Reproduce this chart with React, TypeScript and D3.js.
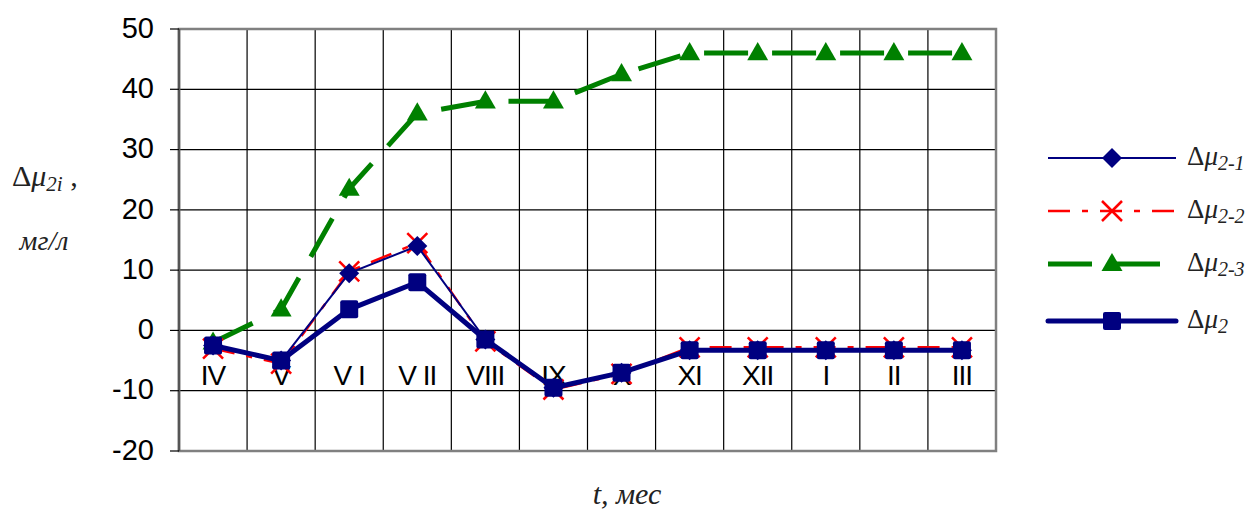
import React, { useEffect, useRef } from "react";
import * as d3 from "d3";

// months along the category axis
const months = ["IV", "V", "VI", "VII", "VIII", "IX", "X", "XI", "XII", "I", "II", "III"];
const monthLabels = ["IV", "V", "V I", "V II", "VIII", "IX", "X", "XI", "XII", "I", "II", "III"];
const yTicks = [-20, -10, 0, 10, 20, 30, 40, 50];

// series values, mg/l
const mu21 = [-2.5, -5, 9.5, 14, -1.5, -9.5, -7, -3.3, -3.3, -3.3, -3.3, -3.3];
const mu22 = [-3, -5.5, 9.8, 14.5, -1.8, -9.8, -7.2, -2.8, -2.8, -2.8, -2.8, -2.8];
const mu23 = [-2, 3.5, 23.5, 36, 38, 38, 42.5, 46, 46, 46, 46, 46];
const mu2 = [-2.5, -5, 3.5, 8, -1.5, -9.5, -7, -3.3, -3.3, -3.3, -3.3, -3.3];

const seriesNames = ["2-1", "2-2", "2-3", "2"];

const W = 1254;
const H = 509;
const plot = { left: 179, right: 996, top: 29, bottom: 451 };
const sans = "Liberation Sans, Arial, sans-serif";
const serif = "Liberation Serif, Times New Roman, serif";

function App() {
  const svgRef = useRef<SVGSVGElement>(null);

  useEffect(() => {
    const svg = d3.select(svgRef.current);
    svg.selectAll("*").remove();

    const x = d3.scaleBand().domain(months).range([plot.left, plot.right]).padding(0);
    const y = d3.scaleLinear().domain([-20, 50]).range([plot.bottom, plot.top]);
    const cx = (m: string) => (x(m) as number) + x.bandwidth() / 2;

    // grid
    const grid = svg.append("g");
    grid
      .selectAll("line.h")
      .data(yTicks)
      .join("line")
      .attr("x1", plot.left)
      .attr("x2", plot.right)
      .attr("y1", d => y(d))
      .attr("y2", d => y(d))
      .attr("stroke", "#000")
      .attr("stroke-width", 1.2);
    grid
      .selectAll("line.v")
      .data(months.slice(1))
      .join("line")
      .attr("x1", d => x(d) as number)
      .attr("x2", d => x(d) as number)
      .attr("y1", plot.top)
      .attr("y2", plot.bottom)
      .attr("stroke", "#000")
      .attr("stroke-width", 1.2);

    // frame
    svg
      .append("rect")
      .attr("x", plot.left)
      .attr("y", plot.top)
      .attr("width", plot.right - plot.left)
      .attr("height", plot.bottom - plot.top)
      .attr("fill", "none")
      .attr("stroke", "#808080")
      .attr("stroke-width", 2.5);
    svg
      .append("line")
      .attr("x1", plot.left)
      .attr("x2", plot.left)
      .attr("y1", plot.top)
      .attr("y2", plot.bottom)
      .attr("stroke", "#555")
      .attr("stroke-width", 2.5);

    // y axis ticks and labels
    const yAxis = svg.append("g");
    yAxis
      .selectAll("line")
      .data(yTicks)
      .join("line")
      .attr("x1", plot.left - 9)
      .attr("x2", plot.left)
      .attr("y1", d => y(d))
      .attr("y2", d => y(d))
      .attr("stroke", "#000")
      .attr("stroke-width", 1.2);
    yAxis
      .selectAll("text")
      .data(yTicks)
      .join("text")
      .attr("x", 154)
      .attr("y", d => y(d))
      .attr("dy", "0.3em")
      .attr("text-anchor", "end")
      .attr("font-family", sans)
      .attr("font-size", 29)
      .text(d => d);

    // category labels just below the zero line
    svg
      .append("g")
      .selectAll("text")
      .data(months)
      .join("text")
      .attr("x", d => cx(d))
      .attr("y", y(0) + 55)
      .attr("text-anchor", "middle")
      .attr("font-family", sans)
      .attr("font-size", 28)
      .attr("letter-spacing", -1)
      .text((d, i) => monthLabels[i]);

    const line = d3
      .line<number>()
      .x((d, i) => cx(months[i]))
      .y(d => y(d));

    // Δμ2-3 green long dash, triangles
    const g3 = svg.append("g");
    g3.append("path")
      .attr("d", line(mu23))
      .attr("fill", "none")
      .attr("stroke", "#008000")
      .attr("stroke-width", 5)
      .attr("stroke-dasharray", "44,24");
    const tri = d3.symbol().type(d3.symbolTriangle).size(190);
    g3.selectAll("path.m")
      .data(mu23)
      .join("path")
      .attr("transform", (d, i) => `translate(${cx(months[i])},${y(d) + 1})`)
      .attr("d", tri())
      .attr("fill", "#008000");

    // Δμ2-2 red dash-dot, crosses
    const g2 = svg.append("g");
    g2.append("path")
      .attr("d", line(mu22))
      .attr("fill", "none")
      .attr("stroke", "#ff0000")
      .attr("stroke-width", 2.5)
      .attr("stroke-dasharray", "22,12,6,12");
    g2.selectAll("path.m")
      .data(mu22)
      .join("path")
      .attr("transform", (d, i) => `translate(${cx(months[i])},${y(d)})`)
      .attr("d", "M-10,-10L10,10M-10,10L10,-10")
      .attr("stroke", "#ff0000")
      .attr("stroke-width", 2.5);

    // Δμ2-1 navy thin, diamonds
    const g1 = svg.append("g");
    g1.append("path")
      .attr("d", line(mu21))
      .attr("fill", "none")
      .attr("stroke", "#000080")
      .attr("stroke-width", 2);
    g1.selectAll("path.m")
      .data(mu21)
      .join("path")
      .attr("transform", (d, i) => `translate(${cx(months[i])},${y(d)})`)
      .attr("d", "M0,-10L10,0L0,10L-10,0Z")
      .attr("fill", "#000080");

    // Δμ2 navy thick, squares
    const g0 = svg.append("g");
    g0.append("path")
      .attr("d", line(mu2))
      .attr("fill", "none")
      .attr("stroke", "#000080")
      .attr("stroke-width", 5)
      .attr("stroke-linejoin", "round");
    g0.selectAll("rect")
      .data(mu2)
      .join("rect")
      .attr("x", (d, i) => cx(months[i]) - 9)
      .attr("y", d => y(d) - 9)
      .attr("width", 18)
      .attr("height", 18)
      .attr("rx", 2)
      .attr("fill", "#000080");

    // legend
    const legendY = [158, 211, 264, 321];
    const lg = svg.append("g");
    const lx1 = 1048;
    const lx2 = 1176;
    const mx = 1112;
    lg.append("line").attr("x1", lx1).attr("x2", lx2).attr("y1", legendY[0]).attr("y2", legendY[0])
      .attr("stroke", "#000080").attr("stroke-width", 2);
    lg.append("path").attr("transform", `translate(${mx},${legendY[0]})`)
      .attr("d", "M0,-10L10,0L0,10L-10,0Z").attr("fill", "#000080");
    lg.append("line").attr("x1", lx1).attr("x2", lx2).attr("y1", legendY[1]).attr("y2", legendY[1])
      .attr("stroke", "#ff0000").attr("stroke-width", 2.5).attr("stroke-dasharray", "22,12,6,12");
    lg.append("path").attr("transform", `translate(${mx},${legendY[1]})`)
      .attr("d", "M-10,-10L10,10M-10,10L10,-10").attr("stroke", "#ff0000").attr("stroke-width", 2.5);
    lg.append("line").attr("x1", lx1).attr("x2", lx2).attr("y1", legendY[2]).attr("y2", legendY[2])
      .attr("stroke", "#008000").attr("stroke-width", 5).attr("stroke-dasharray", "44,24");
    lg.append("path").attr("transform", `translate(${mx},${legendY[2] + 1})`)
      .attr("d", tri()).attr("fill", "#008000");
    lg.append("line").attr("x1", lx1).attr("x2", lx2).attr("y1", legendY[3]).attr("y2", legendY[3])
      .attr("stroke", "#000080").attr("stroke-width", 5).attr("stroke-linecap", "round");
    lg.append("rect").attr("x", mx - 9).attr("y", legendY[3] - 9).attr("width", 18).attr("height", 18)
      .attr("rx", 2).attr("fill", "#000080");

    const lt = lg
      .selectAll("text")
      .data(seriesNames)
      .join("text")
      .attr("x", 1187)
      .attr("y", (d, i) => legendY[i] + 7)
      .attr("font-family", serif)
      .attr("font-size", 27)
      .attr("fill", "#222");
    lt.append("tspan").text("Δ");
    lt.append("tspan").attr("font-style", "italic").text("μ");
    lt.append("tspan").attr("font-style", "italic").attr("font-size", 20).attr("dy", 5).text(d => d);

    // axis titles
    const yt = svg
      .append("text")
      .attr("x", 12)
      .attr("y", 186)
      .attr("font-family", serif)
      .attr("font-size", 30)
      .attr("fill", "#222");
    yt.append("tspan").text("Δ");
    yt.append("tspan").attr("font-style", "italic").text("μ");
    yt.append("tspan").attr("font-style", "italic").attr("font-size", 21).attr("dy", 5).text("2i");
    yt.append("tspan").attr("dy", -5).text(" ,");
    svg
      .append("text")
      .attr("x", 44)
      .attr("y", 250)
      .attr("text-anchor", "middle")
      .attr("font-family", serif)
      .attr("font-style", "italic")
      .attr("font-size", 28)
      .attr("fill", "#222")
      .text("мг/л");

    svg
      .append("text")
      .attr("x", 627)
      .attr("y", 504)
      .attr("text-anchor", "middle")
      .attr("font-family", serif)
      .attr("font-style", "italic")
      .attr("font-size", 30)
      .attr("fill", "#222")
      .text("t, мес");
  }, []);

  return (
    <svg
      ref={svgRef}
      width={W}
      height={H}
      style={{ position: "absolute", left: 0, top: 0, background: "#fff" }}
    />
  );
}

export default App;
